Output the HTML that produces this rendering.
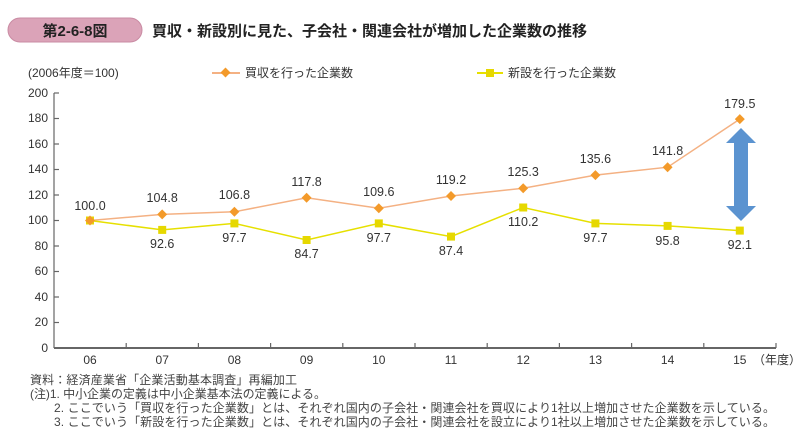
<!DOCTYPE html>
<html><head><meta charset="utf-8"><style>
body{margin:0;background:#fff;width:800px;height:435px;overflow:hidden}
svg text{font-family:"Liberation Sans","Noto Sans CJK JP",sans-serif}
</style></head><body>
<svg width="800" height="435" viewBox="0 0 800 435" xmlns="http://www.w3.org/2000/svg">
<rect x="8" y="18" width="134" height="24" rx="12" fill="#dba3b8" stroke="#c98ba3"/>
<text x="75" y="36" font-size="15" text-anchor="middle" fill="#222" font-weight="bold">第2-6-8図</text>
<text x="152" y="36" font-size="15" fill="#222" font-weight="bold">買収・新設別に見た、子会社・関連会社が増加した企業数の推移</text>
<text x="28" y="77" font-size="12" fill="#333">(2006年度＝100)</text>
<line x1="212" y1="73" x2="240" y2="73" stroke="#f4b183" stroke-width="2"/>
<rect x="222" y="69" width="7" height="7" fill="#f39a2a" transform="rotate(45 225.5 72.5)"/>
<text x="245" y="77" font-size="12" fill="#333">買収を行った企業数</text>
<line x1="477" y1="73" x2="503" y2="73" stroke="#e6e000" stroke-width="2"/>
<rect x="486" y="69" width="8" height="8" fill="#e6d800"/>
<text x="508" y="77" font-size="12" fill="#333">新設を行った企業数</text>
<g font-size="12" fill="#333" text-anchor="end">
<text x="48" y="97">200</text><text x="48" y="122">180</text><text x="48" y="148">160</text><text x="48" y="173">140</text><text x="48" y="199">120</text><text x="48" y="224">100</text><text x="48" y="250">80</text><text x="48" y="275">60</text><text x="48" y="301">40</text><text x="48" y="326">20</text><text x="48" y="352">0</text>
</g>
<g stroke="#666" stroke-width="1.2">
<line x1="54" y1="93" x2="54" y2="348"/>
<line x1="54" y1="348" x2="776" y2="348" stroke-width="2"/>
<line x1="54" y1="93" x2="59" y2="93"/><line x1="54" y1="118.5" x2="59" y2="118.5"/><line x1="54" y1="144" x2="59" y2="144"/><line x1="54" y1="169.5" x2="59" y2="169.5"/><line x1="54" y1="195" x2="59" y2="195"/><line x1="54" y1="220.5" x2="59" y2="220.5"/><line x1="54" y1="246" x2="59" y2="246"/><line x1="54" y1="271.5" x2="59" y2="271.5"/><line x1="54" y1="297" x2="59" y2="297"/><line x1="54" y1="322.5" x2="59" y2="322.5"/>
<line x1="126.2" y1="343" x2="126.2" y2="348"/><line x1="198.4" y1="343" x2="198.4" y2="348"/><line x1="270.6" y1="343" x2="270.6" y2="348"/><line x1="342.8" y1="343" x2="342.8" y2="348"/><line x1="415" y1="343" x2="415" y2="348"/><line x1="487.2" y1="343" x2="487.2" y2="348"/><line x1="559.4" y1="343" x2="559.4" y2="348"/><line x1="631.6" y1="343" x2="631.6" y2="348"/><line x1="703.8" y1="343" x2="703.8" y2="348"/><line x1="776" y1="343" x2="776" y2="348"/>
</g>
<g font-size="12" fill="#333" text-anchor="middle">
<text x="90" y="364">06</text><text x="162.2" y="364">07</text><text x="234.4" y="364">08</text><text x="306.6" y="364">09</text><text x="378.8" y="364">10</text><text x="451" y="364">11</text><text x="523.2" y="364">12</text><text x="595.4" y="364">13</text><text x="667.6" y="364">14</text><text x="739.8" y="364">15</text>
</g>
<text x="753" y="364" font-size="12" fill="#333">（年度）</text>
<polyline fill="none" stroke="#f4b183" stroke-width="1.5" points="90,220.5 162.2,214.4 234.4,211.8 306.6,197.8 378.8,208.3 451,196 523.2,188.2 595.4,175.1 667.6,167.2 739.8,119.1"/>
<polyline fill="none" stroke="#e6e000" stroke-width="1.5" points="90,220.5 162.2,229.9 234.4,223.4 306.6,240 378.8,223.4 451,236.6 523.2,207.5 595.4,223.4 667.6,225.9 739.8,230.6"/>
<g fill="#e6d800">
<rect x="86" y="216.5" width="8" height="8"/><rect x="158.2" y="225.9" width="8" height="8"/><rect x="230.4" y="219.4" width="8" height="8"/><rect x="302.6" y="236" width="8" height="8"/><rect x="374.8" y="219.4" width="8" height="8"/><rect x="447" y="232.6" width="8" height="8"/><rect x="519.2" y="203.5" width="8" height="8"/><rect x="591.4" y="219.4" width="8" height="8"/><rect x="663.6" y="221.9" width="8" height="8"/><rect x="735.8" y="226.6" width="8" height="8"/>
</g>
<g fill="#f39a2a">
<path d="M90 215.5l5 5-5 5-5-5z"/><path d="M162.2 209.4l5 5-5 5-5-5z"/><path d="M234.4 206.8l5 5-5 5-5-5z"/><path d="M306.6 192.8l5 5-5 5-5-5z"/><path d="M378.8 203.3l5 5-5 5-5-5z"/><path d="M451 191l5 5-5 5-5-5z"/><path d="M523.2 183.2l5 5-5 5-5-5z"/><path d="M595.4 170.1l5 5-5 5-5-5z"/><path d="M667.6 162.2l5 5-5 5-5-5z"/><path d="M739.8 114.1l5 5-5 5-5-5z"/>
</g>
<path d="M741 128 L756 143 L748 143 L748 206 L756 206 L741 221 L726 206 L734 206 L734 143 L726 143 Z" fill="#5b93d0"/>
<g font-size="12.5" fill="#333" text-anchor="middle">
<text x="90" y="210">100.0</text><text x="162.2" y="202">104.8</text><text x="234.4" y="199">106.8</text><text x="306.6" y="186">117.8</text><text x="378.8" y="196">109.6</text><text x="451" y="184">119.2</text><text x="523.2" y="176">125.3</text><text x="595.4" y="163">135.6</text><text x="667.6" y="155">141.8</text><text x="739.8" y="108">179.5</text>
<text x="162.2" y="248">92.6</text><text x="234.4" y="242">97.7</text><text x="306.6" y="258">84.7</text><text x="378.8" y="242">97.7</text><text x="451" y="255">87.4</text><text x="523.2" y="226">110.2</text><text x="595.4" y="242">97.7</text><text x="667.6" y="245">95.8</text><text x="739.8" y="249">92.1</text>
</g>
<g font-size="12" fill="#444">
<text x="30" y="384" textLength="267" lengthAdjust="spacing">資料：経済産業省「企業活動基本調査」再編加工</text>
<text x="30" y="398" textLength="296" lengthAdjust="spacing">(注)1. 中小企業の定義は中小企業基本法の定義による。</text>
<text x="54" y="412" textLength="721" lengthAdjust="spacing">2. ここでいう「買収を行った企業数」とは、それぞれ国内の子会社・関連会社を買収により1社以上増加させた企業数を示している。</text>
<text x="54" y="426" textLength="721" lengthAdjust="spacing">3. ここでいう「新設を行った企業数」とは、それぞれ国内の子会社・関連会社を設立により1社以上増加させた企業数を示している。</text>
</g>
</svg>
</body></html>
